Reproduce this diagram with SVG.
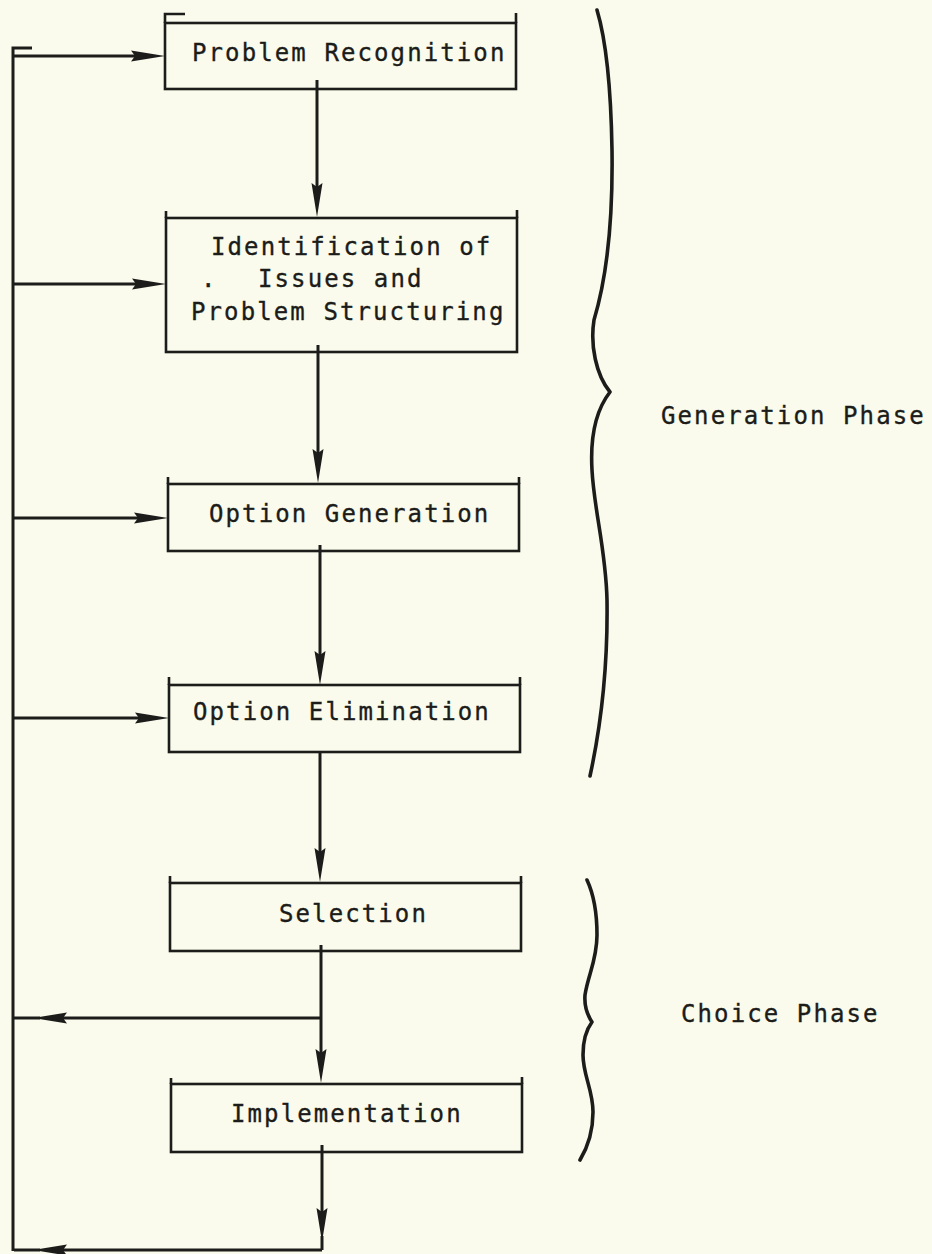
<svg xmlns="http://www.w3.org/2000/svg" width="932" height="1254" viewBox="0 0 932 1254">
  <style>
    .bg { fill: #fafbec; }
    .box rect { fill: none; stroke: #1c1c1a; stroke-width: 2.6; }
    .tick { stroke: #1c1c1a; stroke-width: 2.6; fill: none; }
    .lbl { font-family: "DejaVu Sans Mono", "Liberation Mono", monospace; font-size: 24px; letter-spacing: 2.1px; fill: #1c1c1a; stroke: #1c1c1a; stroke-width: 0.35px; }
    .conn path { fill: none; stroke: #1c1c1a; stroke-width: 3; }
    .brace { fill: none; stroke: #1c1c1a; stroke-width: 3.6; stroke-linecap: round; stroke-linejoin: round; }
  </style>
  <defs>
    <marker id="ah" viewBox="0 0 34 12" refX="14" refY="6" markerWidth="34" markerHeight="12" markerUnits="userSpaceOnUse" orient="auto">
      <path d="M0,0.5 L34,6 L0,11.5 L4,6 Z" fill="#1c1c1a"/>
    </marker>
  </defs>
  <rect class="bg" x="0" y="0" width="932" height="1254"/>

  <g id="connectors" class="conn">
    <path d="M13,1251 V48 H32"/>
    <path d="M13,56 H145" marker-end="url(#ah)"/>
    <path d="M13,284 H146" marker-end="url(#ah)"/>
    <path d="M13,518 H148" marker-end="url(#ah)"/>
    <path d="M13,718 H149" marker-end="url(#ah)"/>
    <path d="M317,80 V197" marker-end="url(#ah)"/>
    <path d="M318,345 V463" marker-end="url(#ah)"/>
    <path d="M320,545 V665" marker-end="url(#ah)"/>
    <path d="M320,752 V862" marker-end="url(#ah)"/>
    <path d="M321,945 V1063" marker-end="url(#ah)"/>
    <path d="M321,1018 H53" marker-end="url(#ah)"/>
    <path d="M40,1018 H14"/>
    <path d="M322,1145 V1222" marker-end="url(#ah)"/>
    <path d="M322,1236 V1250"/>
    <path d="M322,1250 H53" marker-end="url(#ah)"/>
    <path d="M40,1250 H14"/>
  </g>

  <g id="n1" class="box">
    <rect x="165" y="23" width="351" height="66"/>
    <path class="tick" d="M165,23 V14 H185 M516,23 V13"/>
    <text class="lbl" x="192" y="61">Problem Recognition</text>
  </g>

  <g id="n2" class="box">
    <rect x="166" y="218" width="351" height="134"/>
    <path class="tick" d="M166,218 V211 M517,218 V210"/>
    <text class="lbl" x="211" y="255">Identification of</text>
    <text class="lbl" y="287"><tspan x="201">.</tspan><tspan x="258">Issues and</tspan></text>
    <text class="lbl" x="191" y="320">Problem Structuring</text>
  </g>

  <g id="n3" class="box">
    <rect x="168" y="484" width="351" height="67"/>
    <path class="tick" d="M168,484 V477 M519,484 V477"/>
    <text class="lbl" x="209" y="522">Option Generation</text>
  </g>

  <g id="n4" class="box">
    <rect x="169" y="685" width="351" height="67"/>
    <path class="tick" d="M169,685 V677 M520,685 V677"/>
    <text class="lbl" x="193" y="720">Option Elimination</text>
  </g>

  <g id="n5" class="box">
    <rect x="170" y="883" width="351" height="68"/>
    <path class="tick" d="M170,883 V876 M521,883 V876"/>
    <text class="lbl" x="279" y="922">Selection</text>
  </g>

  <g id="n6" class="box">
    <rect x="171" y="1084" width="351" height="68"/>
    <path class="tick" d="M171,1084 V1078 M522,1084 V1077"/>
    <text class="lbl" x="231" y="1122">Implementation</text>
  </g>

  <g id="generation-phase">
    <path class="brace" d="M597,10 C606,40 611,90 612,150 C613,220 606,280 594,320 C590,345 596,375 610,392 C596,410 590,435 592,470 C594,510 606,550 607,600 C608,670 600,730 590,776"/>
    <text class="lbl" x="661" y="424">Generation Phase</text>
  </g>

  <g id="choice-phase">
    <path class="brace" d="M587,880 C594,895 597,915 597,935 C597,960 588,975 585,995 C584,1008 588,1016 592,1022 C586,1030 583,1040 583,1055 C583,1075 593,1090 593,1112 C593,1135 586,1150 580,1160"/>
    <text class="lbl" x="681" y="1022">Choice Phase</text>
  </g>
</svg>
